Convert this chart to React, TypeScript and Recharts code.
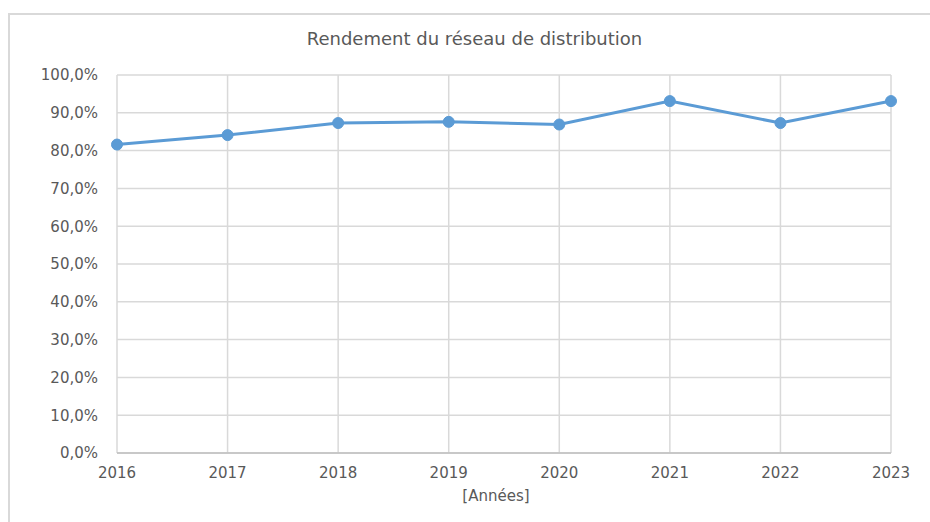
import { LineChart, Line, XAxis, YAxis, CartesianGrid } from "recharts";

const years = ["2016", "2017", "2018", "2019", "2020", "2021", "2022", "2023"];
const rendement = [0.816, 0.841, 0.873, 0.876, 0.869, 0.931, 0.873, 0.931];
const yTicks = [0, 0.1, 0.2, 0.3, 0.4, 0.5, 0.6, 0.7, 0.8, 0.9, 1];

const chartData = years.map((year, i) => ({ year, value: rendement[i] }));

const fmtPct = (v: number) => (v * 100).toFixed(1).replace(".", ",") + "%";

const FONT = "'DejaVu Sans', sans-serif";
const TEXT = "#595959";

export default function App() {
  return (
    <div
      style={{
        position: "absolute",
        left: 0,
        top: 0,
        width: 930,
        height: 522,
        background: "#fff",
        overflow: "hidden",
      }}
    >
      {/* frame of the chart area */}
      <div
        style={{
          position: "absolute",
          left: 8,
          top: 13,
          width: 940,
          height: 540,
          borderTop: "2px solid #d9d9d9",
          borderLeft: "2px solid #d9d9d9",
        }}
      />
      <div
        style={{
          position: "absolute",
          left: 0,
          top: 28,
          width: 949,
          textAlign: "center",
          fontFamily: FONT,
          fontSize: 18,
          color: TEXT,
        }}
      >
        Rendement du réseau de distribution
      </div>
      <div style={{ position: "absolute", left: 0, top: 0 }}>
        <LineChart
          width={930}
          height={522}
          data={chartData}
          margin={{ top: 75, right: 39, bottom: 39, left: 27 }}
        >
          <CartesianGrid stroke="#d9d9d9" strokeWidth={1.5} />
          <XAxis
            dataKey="year"
            tickLine={false}
            tickSize={0}
            tickMargin={14}
            height={30}
            axisLine={{ stroke: "#bfbfbf", strokeWidth: 1.5 }}
            tick={{ fill: TEXT, fontSize: 15, fontFamily: FONT }}
            interval={0}
            label={{
              value: "[Années]",
              position: "bottom",
              offset: 7,
              dx: -8,
              fill: TEXT,
              fontSize: 15,
              fontFamily: FONT,
            }}
          />
          <YAxis
            domain={[0, 1]}
            ticks={yTicks}
            tickFormatter={fmtPct}
            width={90}
            axisLine={false}
            tickLine={false}
            tickSize={0}
            tickMargin={19}
            tick={{ fill: TEXT, fontSize: 15, fontFamily: FONT }}
          />
          <Line
            type="linear"
            dataKey="value"
            stroke="#5b9bd5"
            strokeWidth={3}
            dot={{ r: 5.5, fill: "#5b9bd5", stroke: "#5b9bd5", strokeWidth: 1 }}
            isAnimationActive={false}
          />
        </LineChart>
      </div>
    </div>
  );
}
